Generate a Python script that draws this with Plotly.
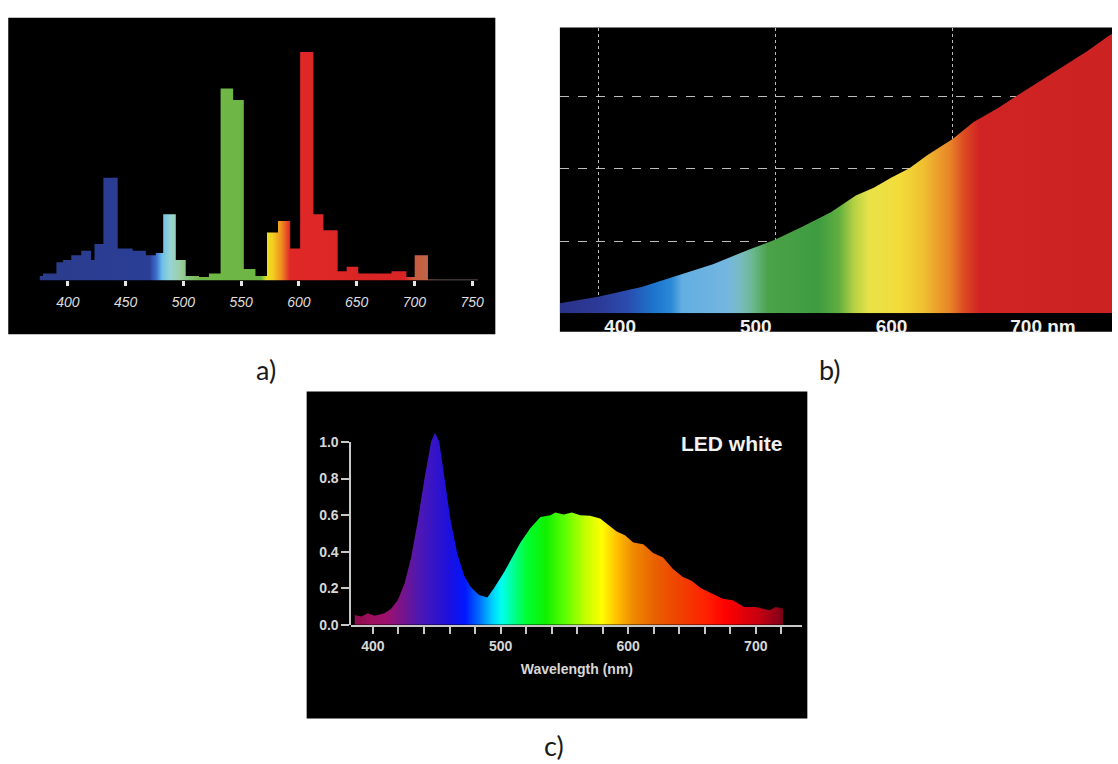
import plotly.graph_objects as go

# ---------------- data ----------------
# a) fluorescent lamp: step spectrum (bin left edges in nm, relative level)
a_bin_start_nm = [375.6, 378.4, 390.0, 395.7, 402.9, 411.5, 420.1, 423.0, 430.7, 443.1,
                  456.0, 467.5, 476.1, 482.5, 493.4, 502.0, 513.5, 522.1, 532.2, 543.1,
                  552.3, 562.4, 572.4, 581.9, 592.5, 601.1, 612.6, 621.3, 633.6, 641.4,
                  651.4, 680.2, 693.1, 700.3, 711.8]
a_last_edge_nm = 754.9
a_level = [2, 3, 8, 9, 11, 13, 9, 16, 45, 14,
           13, 11, 12, 29, 9, 2, 1.5, 3, 84, 79,
           5, 2, 21, 26, 14, 100, 29, 22, 4, 6,
           3, 4, 1.5, 11, 0.4]
a_tick_vals = [400, 450, 500, 550, 600, 650, 700, 750]
a_tick_text = ["400", "450", "500", "550", "600", "650", "700", "750"]

# b) incandescent lamp: rising continuous spectrum
b_wavelength_nm = [355.6, 383.7, 415.8, 442.1, 468.4, 494.7, 514.5, 534.2, 555.3, 573.7,
                   586.9, 600.0, 613.2, 626.3, 645.3, 660.5, 678.9, 692.1, 718.4, 744.7,
                   760.4, 762.5]
b_intensity = [0.136, 0.227, 0.362, 0.52, 0.68, 0.88, 1.02, 1.20, 1.40, 1.63,
               1.74, 1.88, 2.01, 2.19, 2.42, 2.65, 2.85, 3.01, 3.32, 3.64,
               3.85, 3.87]
b_tick_vals = [400, 500, 600, 700]
b_tick_text = ["400", "500", "600", "\u00a0" * 6 + "700 nm"]
b_grid_nm = [383.7, 514.5, 645.3]

# c) white LED
c_wavelength_nm = [385.7, 390.9, 396.0, 401.3, 409.0, 414.0, 419.5, 424.7, 429.9, 435.0,
                   440.3, 445.5, 448.6, 452.0, 455.9, 461.0, 466.2, 471.4, 476.6, 483.1,
                   489.6, 494.8, 502.6, 510.4, 515.6, 523.4, 531.2, 539.0, 542.9, 549.4,
                   555.9, 562.4, 570.2, 578.0, 584.5, 591.0, 597.5, 604.0, 611.8, 619.6,
                   627.4, 635.1, 642.9, 649.4, 657.2, 666.3, 674.1, 681.9, 691.0, 700.1,
                   710.5, 715.7, 721.4]
c_intensity = [0.054, 0.045, 0.063, 0.05, 0.063, 0.086, 0.136, 0.225, 0.368, 0.564,
               0.796, 1.0, 1.05, 1.0, 0.81, 0.564, 0.386, 0.27, 0.207, 0.163,
               0.15, 0.2, 0.286, 0.386, 0.45, 0.53, 0.59, 0.6, 0.614, 0.603,
               0.614, 0.6, 0.596, 0.582, 0.546, 0.51, 0.49, 0.45, 0.44, 0.393,
               0.368, 0.305, 0.261, 0.243, 0.2, 0.171, 0.143, 0.134, 0.098, 0.098,
               0.08, 0.098, 0.089]
c_x_tick_vals = [400, 420, 440, 460, 480, 500, 520, 540, 560, 580, 600, 620, 640, 660, 680, 700, 720]
c_x_tick_text = ["400", "", "", "", "", "500", "", "", "", "", "600", "", "", "", "", "700", ""]
c_y_tick_vals = [0.0, 0.2, 0.4, 0.6, 0.8, 1.0]

# ---------------- styles ----------------
a_colors = [(370, '#2c3c8c'), (470, '#2a3e96'), (476, '#3f6fcc'), (481, '#6cc0ea'),
            (488, '#98d4d4'), (496, '#9ccfa8'), (503, '#86c47a'), (515, '#70b848'),
            (566, '#6cb444'), (571, '#e8e020'), (576, '#f4d020'), (584, '#f08a20'),
            (591, '#e02828'), (690, '#d82424'), (697, '#cc5a3c'), (712, '#b8684c'),
            (718, '#7a6a66'), (760, '#7a6a66')]
b_colors = [(355, '#2a3288'), (385, '#2c3a98'), (405, '#2a4cae'), (424, '#1c74cc'),
            (437, '#2a88d8'), (445, '#62aee2'), (478, '#74b6e0'), (488, '#78bcc0'),
            (497, '#6ab890'), (508, '#4ca248'), (545, '#3e9c40'), (560, '#60ae40'),
            (571, '#b4d044'), (582, '#e8e248'), (605, '#f2dc3a'), (622, '#f0c030'),
            (632, '#eca02c'), (642, '#e88228'), (652, '#dc4a22'), (663, '#d02424'),
            (765, '#cc2222')]
c_colors = [(383, '#8a0a4a'), (400, '#a01060'), (412, '#9a1070'), (422, '#7a1488'),
            (435, '#5018b0'), (448, '#3414c8'), (460, '#1a10e0'), (472, '#0018ff'),
            (483, '#0070ff'), (492, '#00c8ff'), (500, '#00fff0'), (508, '#00ffa0'),
            (520, '#00ff30'), (535, '#10f000'), (550, '#60ff00'), (565, '#c0ff00'),
            (578, '#ffff00'), (590, '#ffc000'), (602, '#f08c00'), (620, '#e86000'),
            (640, '#f04000'), (660, '#ff2000'), (675, '#ff0000'), (700, '#c80010'),
            (715, '#900018'), (725, '#500010')]


def grad(stops):
    lo, hi = stops[0][0], stops[-1][0]
    return dict(type='horizontal', start=lo, stop=hi,
                colorscale=[[(w - lo) / (hi - lo), c] for w, c in stops])


W, H = 1118, 764


def fx(x):
    return x / W


def fy(y):
    return 1 - y / H


fig = go.Figure()

# a)
fig.add_trace(go.Scatter(
    x=a_bin_start_nm + [a_last_edge_nm], y=a_level + [a_level[-1]],
    mode='lines', line=dict(width=0, shape='hv', color='rgba(0,0,0,0)'),
    fill='tozeroy', fillgradient=grad(a_colors), hoverinfo='skip',
    xaxis='x', yaxis='y'))

# b)
fig.add_trace(go.Scatter(
    x=b_wavelength_nm, y=b_intensity,
    mode='lines', line=dict(width=0, color='rgba(0,0,0,0)'),
    fill='tozeroy', fillgradient=grad(b_colors), hoverinfo='skip',
    xaxis='x2', yaxis='y2'))

# c)
fig.add_trace(go.Scatter(
    x=c_wavelength_nm, y=c_intensity,
    mode='lines', line=dict(width=0, color='rgba(0,0,0,0)'),
    fill='tozeroy', fillgradient=grad(c_colors), hoverinfo='skip',
    xaxis='x3', yaxis='y3'))
fig.add_trace(go.Scatter(x=[None], y=[None], mode='lines', hoverinfo='skip',
                         xaxis='x3', yaxis='y4'))

axis_gray = '#c8c8c8'
label_gray = '#d8d8d8'

fig.update_layout(
    width=W, height=H,
    margin=dict(l=0, r=0, t=0, b=0),
    paper_bgcolor='white', plot_bgcolor='rgba(0,0,0,0)',
    showlegend=False,
    font=dict(family='Liberation Sans, Arial, sans-serif'),
    # a)
    xaxis=dict(domain=[fx(30), fx(481)], range=[367, 755.5], anchor='y',
               showgrid=False, zeroline=False, showline=False,
               tickmode='array', tickvals=a_tick_vals, ticktext=a_tick_text,
               ticks='outside', ticklen=5, tickwidth=2.5, tickcolor='#e6e6e6',
               ticklabelstandoff=4,
               tickfont=dict(size=14, color='#dedede', style='italic',
                             family='Liberation Sans, Arial, sans-serif')),
    yaxis=dict(domain=[fy(278.3), fy(40)], range=[0, 102.1], anchor='x', visible=False),
    # b)
    xaxis2=dict(domain=[fx(562.9), 1.0], range=[355.6, 762.5], anchor='y2',
                showgrid=False, zeroline=False, showline=False,
                tickmode='array', tickvals=b_tick_vals, ticktext=b_tick_text,
                ticks='', tickfont=dict(size=19, color='#f0f0f0', weight='bold'),
                minor=dict(tickmode='array', tickvals=b_grid_nm, showgrid=True,
                           gridcolor='rgba(235,235,235,0.8)', gridwidth=1,
                           griddash='dot', ticks='')),
    yaxis2=dict(domain=[fy(311.7), fy(20)], range=[0, 3.96], anchor='x2',
                showgrid=True, gridcolor='rgba(235,235,235,0.8)', gridwidth=1,
                griddash='dash', dtick=1, zeroline=False, showline=False,
                showticklabels=False, ticks=''),
    # c)
    xaxis3=dict(domain=[fx(353.3), fx(806.7)], range=[383.1, 736.5], anchor='y3',
                showgrid=False, zeroline=False, showline=True, linecolor=axis_gray,
                linewidth=2, tickmode='array', tickvals=c_x_tick_vals,
                ticktext=c_x_tick_text, ticks='outside', ticklen=7, tickwidth=2,
                tickcolor=axis_gray,
                tickfont=dict(size=14, color=label_gray, weight='bold'),
                title=dict(text='Wavelength (nm)', standoff=12,
                           font=dict(size=14, color=label_gray, weight='bold'))),
    yaxis3=dict(domain=[fy(630), fy(420)], range=[0, 1.1248], anchor='x3', visible=False),
    yaxis4=dict(domain=[fy(630), fy(443.3)], range=[0, 1], anchor='x3',
                showgrid=False, zeroline=False, showline=True, linecolor=axis_gray,
                linewidth=2, tickmode='array', tickvals=c_y_tick_vals,
                tickformat='.1f', ticks='outside', ticklen=8, tickwidth=2,
                tickcolor=axis_gray,
                tickfont=dict(size=14, color=label_gray, weight='bold')),
    shapes=[
        dict(type='rect', xref='paper', yref='paper', x0=fx(8.3), x1=fx(498),
             y0=fy(333.3), y1=fy(10), fillcolor='black', line=dict(width=0), layer='below'),
        dict(type='rect', xref='paper', yref='paper', x0=fx(562.9), x1=1.0,
             y0=fy(330.7), y1=fy(20), fillcolor='black', line=dict(width=0), layer='below'),
        dict(type='rect', xref='paper', yref='paper', x0=fx(308.3), x1=fx(811.7),
             y0=fy(725.7), y1=fy(391.7), fillcolor='black', line=dict(width=0), layer='below'),
    ],
    annotations=[
        dict(text='LED white', xref='paper', yref='paper', x=fx(736), y=fy(445),
             xanchor='center', yanchor='middle', showarrow=False,
             font=dict(size=21, color='#f2f2f2', weight='bold')),
        dict(text='a)', xref='paper', yref='paper', x=fx(267), y=fy(369),
             xanchor='center', yanchor='middle', showarrow=False,
             font=dict(size=27, color='#1a1a1a', family='Lato, Open Sans, sans-serif')),
        dict(text='b)', xref='paper', yref='paper', x=fx(834), y=fy(369),
             xanchor='center', yanchor='middle', showarrow=False,
             font=dict(size=27, color='#1a1a1a', family='Lato, Open Sans, sans-serif')),
        dict(text='c)', xref='paper', yref='paper', x=fx(557), y=fy(753),
             xanchor='center', yanchor='middle', showarrow=False,
             font=dict(size=27, color='#1a1a1a', family='Lato, Open Sans, sans-serif')),
    ],
)

fig.write_html(
    "out.html",
    config={'displayModeBar': False},
    post_script="document.body.style.margin='0';document.body.style.overflow='hidden';",
)
